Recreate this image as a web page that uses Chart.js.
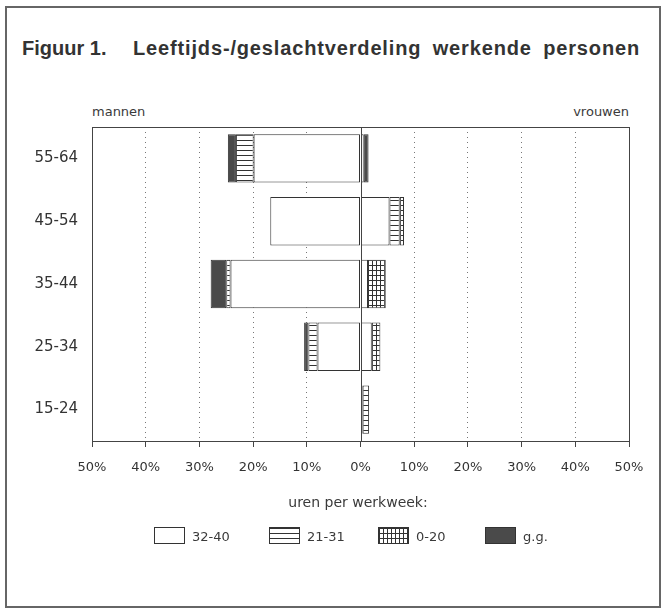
<!DOCTYPE html>
<html>
<head>
<meta charset="utf-8">
<script src="https://cdn.jsdelivr.net/npm/chart.js@4.4.1/dist/chart.umd.min.js"></script>
<style>
  body { margin: 0; background: #fff; }
  #wrap { position: relative; width: 664px; height: 611px; overflow: hidden;
          font-family: "DejaVu Sans", sans-serif; color: #3a3a3a; }
  #frame { position: absolute; left: 5px; top: 6px; width: 652px; height: 598px; border: 2px solid #666; }
  .title { position: absolute; top: 37px; white-space: nowrap; color: #333;
           font: bold 20px "Liberation Sans", Arial, sans-serif; }
  #t2 { letter-spacing: 0.85px; word-spacing: 5px; }
  .side { position: absolute; top: 104px; font-size: 13px; }
  #chart { position: absolute; left: 0; top: 0; }
  #legendTitle { position: absolute; left: 0; width: 716px; top: 494px; text-align: center; font-size: 14px; }
  .item { position: absolute; top: 527px; height: 16px; font-size: 13px; line-height: 16px; }
  .sw { position: absolute; left: 0; top: 0; width: 29px; height: 15px; border: 1px solid #333; }
  .lab { position: absolute; left: 38px; top: 2px; white-space: nowrap; }
</style>
</head>
<body>
<div id="wrap">
  <div id="frame"></div>
  <div class="title" style="left:22px">Figuur 1.</div>
  <div class="title" id="t2" style="left:133px">Leeftijds-/geslachtverdeling werkende personen</div>
  <div class="side" style="left:92px">mannen</div>
  <div class="side" style="right:35px">vrouwen</div>
  <canvas id="chart" width="664" height="611"></canvas>
  <div id="legendTitle">uren per werkweek:</div>
  <div id="legend"></div>
</div>
<script>
// Age groups, top to bottom
const ageGroups = ['55-64', '45-54', '35-44', '25-34', '15-24'];

// Hours-per-week classes (legend)
const hourClasses = ['32-40', '21-31', '0-20', 'g.g.'];

// Men (% of working persons), drawn to the left
const men3240 = [19.9, 16.8, 24.2, 8.0, 0];
const men2131 = [3.3, 0, 0.8, 1.7, 0];
const men020  = [0, 0, 0, 0, 0];
const menGG   = [1.5, 0, 2.9, 0.8, 0];

// Women (%), drawn to the right
const women3240 = [0.6, 5.4, 1.4, 2.1, 0.4];
const women2131 = [0, 1.9, 0, 0, 1.2];
const women020  = [0, 0.8, 3.3, 1.6, 0];
const womenGG   = [0.9, 0, 0, 0, 0];

const xTicks = [-50, -40, -30, -20, -10, 0, 10, 20, 30, 40, 50];

// Small tiles used as fill patterns
function makeTile(kind) {
  const c = document.createElement('canvas');
  const ctx = c.getContext('2d');
  if (kind === 'hstripe') {
    c.width = 6; c.height = 5;
    ctx.fillStyle = '#fff'; ctx.fillRect(0, 0, 6, 5);
    ctx.fillStyle = '#333'; ctx.fillRect(0, 0, 6, 1);
  } else if (kind === 'grid') {
    c.width = 4; c.height = 5;
    ctx.fillStyle = '#fff'; ctx.fillRect(0, 0, 4, 5);
    ctx.fillStyle = '#333'; ctx.fillRect(0, 0, 4, 1); ctx.fillRect(0, 0, 1, 5);
  } else if (kind === 'dark') {
    c.width = 4; c.height = 4;
    ctx.fillStyle = '#4a4a4a'; ctx.fillRect(0, 0, 4, 4);
  } else {
    c.width = 4; c.height = 4;
    ctx.fillStyle = '#fff'; ctx.fillRect(0, 0, 4, 4);
  }
  return c;
}

const tileKinds = ['white', 'hstripe', 'grid', 'dark'];
const tiles = tileKinds.map(makeTile);
const mainCtx = document.getElementById('chart').getContext('2d');
const fills = tiles.map(t => mainCtx.createPattern(t, 'repeat'));

// HTML legend using the same tiles
const legendX = [154, 269, 378, 485];
const legendEl = document.getElementById('legend');
hourClasses.forEach((name, i) => {
  const d = document.createElement('div');
  d.className = 'item';
  d.style.left = legendX[i] + 'px';
  d.innerHTML = '<div class="sw" style="background:url(' + tiles[i].toDataURL() + ')"></div><div class="lab">' + name + '</div>';
  legendEl.appendChild(d);
});

function neg(arr) { return arr.map(v => -v); }

const menSeries = [men3240, men2131, men020, menGG];
const womenSeries = [women3240, women2131, women020, womenGG];

const datasets = [];
menSeries.forEach((s, i) => datasets.push({
  label: 'mannen ' + hourClasses[i], data: neg(s), backgroundColor: fills[i],
  borderColor: '#333', borderWidth: 1, borderSkipped: false, stack: 'a'
}));
womenSeries.forEach((s, i) => datasets.push({
  label: 'vrouwen ' + hourClasses[i], data: s, backgroundColor: fills[i],
  borderColor: '#333', borderWidth: 1, borderSkipped: false, stack: 'a'
}));

// Frame of the plot area and the solid zero line
const framePlugin = {
  id: 'framePlugin',
  afterDatasetsDraw(chart) {
    const { ctx, chartArea: a, scales: { x } } = chart;
    ctx.save();
    ctx.strokeStyle = '#444';
    ctx.lineWidth = 1;
    ctx.strokeRect(a.left + 0.5, a.top + 0.5, a.right - a.left, a.bottom - a.top);
    const x0 = Math.round(x.getPixelForValue(0)) + 0.5;
    ctx.beginPath();
    ctx.moveTo(x0, a.top);
    ctx.lineTo(x0, a.bottom);
    ctx.stroke();
    ctx.restore();
  }
};

new Chart(mainCtx, {
  type: 'bar',
  data: { labels: ageGroups, datasets },
  plugins: [framePlugin],
  options: {
    indexAxis: 'y',
    responsive: false,
    animation: false,
    layout: { padding: { left: 12, right: 35, top: 127, bottom: 130 } },
    datasets: { bar: { categoryPercentage: 1, barPercentage: 0.77 } },
    plugins: { legend: { display: false }, tooltip: { enabled: false } },
    scales: {
      x: {
        stacked: true,
        min: -50, max: 50,
        afterBuildTicks: s => { s.ticks = xTicks.map(v => ({ value: v })); },
        afterFit: s => { s.height = 40; },
        grid: {
          color: c => (c.tick && (c.tick.value === 0 || Math.abs(c.tick.value) === 50)) ? 'rgba(0,0,0,0)' : '#777',
          tickColor: '#444',
          tickLength: 6,
          tickBorderDash: []
        },
        border: { display: false, dash: [1, 4] },
        ticks: {
          color: '#333',
          padding: 13,
          maxRotation: 0,
          font: { family: 'DejaVu Sans', size: 13 },
          callback: v => Math.abs(v) + '%'
        }
      },
      y: {
        stacked: true,
        afterFit: s => { s.width = 80; },
        grid: { display: false, drawTicks: false },
        border: { display: false },
        ticks: {
          color: '#333',
          padding: 14,
          font: { family: 'DejaVu Sans', size: 15 }
        }
      }
    }
  }
});
</script>
</body>
</html>
